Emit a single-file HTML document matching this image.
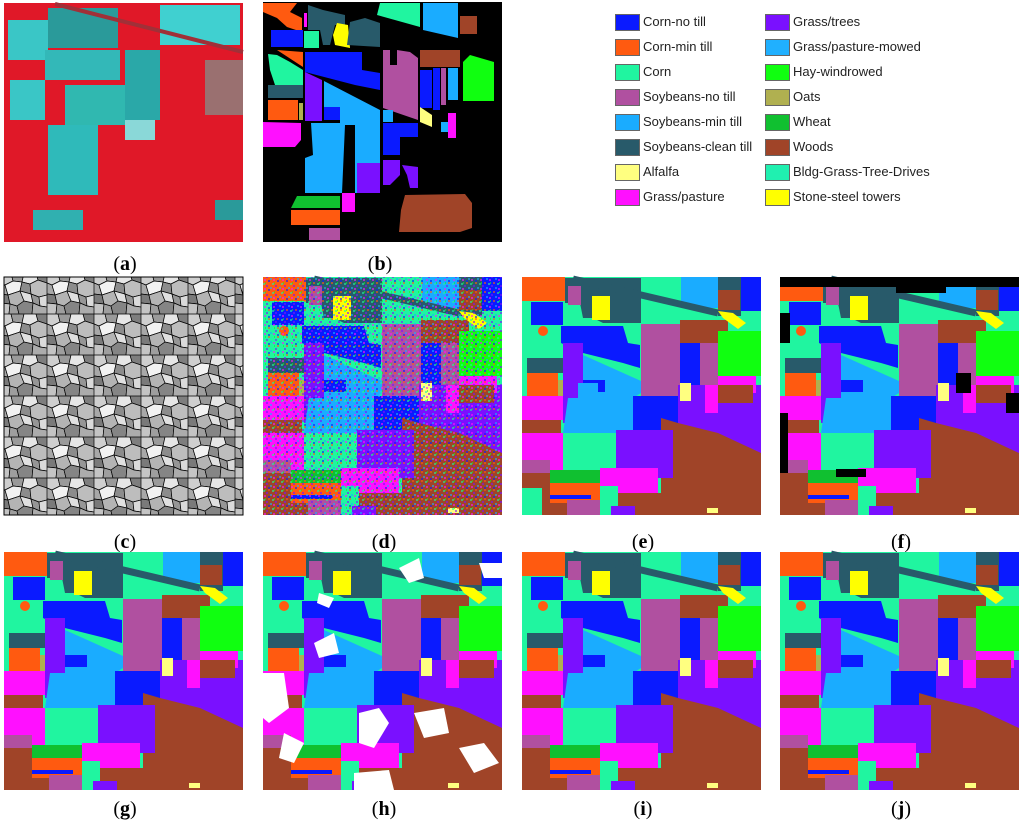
<!DOCTYPE html>
<html><head><meta charset="utf-8">
<style>
body{margin:0;background:#fff;width:1024px;height:830px;position:relative;overflow:hidden;font-family:"Liberation Sans",sans-serif}
svg.p{position:absolute;width:250px;height:245px}
.lab{position:absolute;width:250px;text-align:center;font:20px "Liberation Serif",serif}
.lab b{font-weight:bold}
.lg{position:absolute;font-size:13px;color:#222}
.sw{position:absolute;width:25px;height:17px;border:1px solid #666;box-sizing:border-box}
</style></head><body>
<svg width="0" height="0" style="position:absolute">
<defs>
<pattern id="noise" width="9" height="9" patternUnits="userSpaceOnUse">
<rect x="0" y="0" width="2" height="2" fill="#ff5a10"/><rect x="4" y="1" width="2" height="2" fill="#20f5a0"/>
<rect x="7" y="3" width="2" height="2" fill="#7a10ff"/><rect x="2" y="5" width="2" height="2" fill="#1aacff"/>
<rect x="5" y="6" width="2" height="2" fill="#ff10ff"/><rect x="0" y="7" width="2" height="2" fill="#0a1aff"/>
<rect x="6" y="0" width="1" height="2" fill="#10ff10"/></pattern>
<pattern id="mosaic" width="47" height="41" patternUnits="userSpaceOnUse">
<rect width="47" height="41" fill="#8a8a8a"/>
<g stroke="#000" stroke-width="0.7">
<polygon points="0,0 11,0 13,8 5,12 0,10" fill="#cfcfcf"/>
<polygon points="11,0 24,0 22,9 13,8" fill="#9a9a9a"/>
<polygon points="24,0 36,0 38,7 30,11 22,9" fill="#e6e6e6"/>
<polygon points="36,0 47,0 47,10 38,7" fill="#7e7e7e"/>
<polygon points="0,10 5,12 8,22 0,21" fill="#a8a8a8"/>
<polygon points="5,12 13,8 22,9 20,18 8,22" fill="#f2f2f2"/>
<polygon points="22,9 30,11 31,21 20,18" fill="#8c8c8c"/>
<polygon points="30,11 38,7 47,10 47,22 39,24 31,21" fill="#bdbdbd"/>
<polygon points="0,21 8,22 10,31 0,30" fill="#7a7a7a"/>
<polygon points="8,22 20,18 24,28 17,33 10,31" fill="#b4b4b4"/>
<polygon points="20,18 31,21 33,30 24,28" fill="#e0e0e0"/>
<polygon points="31,21 39,24 40,33 33,30" fill="#969696"/>
<polygon points="39,24 47,22 47,34 40,33" fill="#dadada"/>
<polygon points="0,30 10,31 9,41 0,41" fill="#c4c4c4"/>
<polygon points="10,31 17,33 19,41 9,41" fill="#9e9e9e"/>
<polygon points="17,33 24,28 33,30 32,41 19,41" fill="#858585"/>
<polygon points="33,30 40,33 47,34 47,41 32,41" fill="#acacac"/>
</g>
</pattern>
<g id="mapg">
<rect x="4" y="4" width="239" height="238" fill="#20f5a0"/>
<rect x="4" y="4" width="43" height="24" fill="#ff5a10"/>
<rect x="163" y="4" width="37" height="31" fill="#1aacff"/>
<polygon points="47,5 123,5 123,50 85,50 75,45 65,45 62,30 47,30" fill="#285a6a"/>
<line x1="55" y1="6" x2="200" y2="40" stroke="#285a6a" stroke-width="7"/>
<rect x="200" y="4" width="23" height="39" fill="#285a6a"/>
<rect x="223" y="4" width="20" height="34" fill="#0a1aff"/>
<rect x="200" y="17" width="22" height="20" fill="#a04428"/>
<rect x="50" y="13" width="13" height="19" fill="#b050a0"/>
<rect x="74" y="23" width="18" height="24" fill="#ffff00"/>
<rect x="13" y="29" width="32" height="23" fill="#0a1aff"/>
<circle cx="25" cy="58" r="5" fill="#ff5a10"/>
<polygon points="43,53 105,53 110,70 122,72 122,95 105,90 65,80 43,70" fill="#0a1aff"/>
<rect x="9" y="85" width="36" height="15" fill="#285a6a"/>
<rect x="9" y="100" width="31" height="23" fill="#ff5a10"/>
<rect x="40" y="107" width="6" height="16" fill="#b0b050"/>
<rect x="45" y="70" width="20" height="80" fill="#7a10ff"/>
<polygon points="65,82 123,108 123,120 115,125 117,150 150,155 160,165 160,195 98,195 98,160 45,160 50,125 65,125" fill="#1aacff"/>
<rect x="65" y="107" width="22" height="12" fill="#0a1aff"/>
<rect x="123" y="51" width="39" height="72" fill="#b050a0"/>
<rect x="162" y="47" width="48" height="25" fill="#a04428"/>
<rect x="162" y="70" width="20" height="42" fill="#0a1aff"/>
<rect x="182" y="70" width="18" height="42" fill="#b050a0"/>
<rect x="200" y="58" width="43" height="45" fill="#10ff10"/>
<polygon points="200,38 215,40 228,50 220,56 205,45" fill="#ffff00"/>
<polygon points="160,112 243,112 243,185 200,185 160,175" fill="#7a10ff"/>
<rect x="200" y="103" width="38" height="17" fill="#ff10ff"/>
<rect x="187" y="112" width="13" height="28" fill="#ff10ff"/>
<rect x="200" y="112" width="35" height="18" fill="#a04428"/>
<rect x="162" y="110" width="11" height="18" fill="#ffff80"/>
<rect x="115" y="123" width="45" height="35" fill="#0a1aff"/>
<polygon points="143,145 160,150 200,160 243,180 243,242 143,242" fill="#a04428"/>
<rect x="98" y="157" width="57" height="48" fill="#7a10ff"/>
<rect x="4" y="123" width="41" height="24" fill="#ff10ff"/>
<rect x="4" y="147" width="39" height="30" fill="#a04428"/>
<rect x="4" y="160" width="41" height="40" fill="#ff10ff"/>
<rect x="4" y="187" width="28" height="23" fill="#b050a0"/>
<rect x="4" y="200" width="46" height="42" fill="#a04428"/>
<rect x="32" y="197" width="50" height="13" fill="#10c030"/>
<rect x="32" y="210" width="50" height="20" fill="#ff5a10"/>
<rect x="32" y="222" width="41" height="4" fill="#0a1aff"/>
<rect x="49" y="227" width="33" height="15" fill="#b050a0"/>
<rect x="82" y="195" width="58" height="35" fill="#ff10ff"/>
<rect x="82" y="213" width="18" height="29" fill="#20f5a0"/>
<rect x="100" y="220" width="43" height="22" fill="#a04428"/>
<rect x="93" y="233" width="24" height="9" fill="#7a10ff"/>
<rect x="189" y="235" width="11" height="5" fill="#ffff80"/>
</g>
</defs></svg>

<!-- (a) -->
<svg class="p" style="left:0;top:0" viewBox="0 0 250 245">
<rect x="4" y="3" width="239" height="239" fill="#e01828"/>
<rect x="8" y="20" width="40" height="40" fill="#3ac6c6"/>
<rect x="48" y="8" width="70" height="40" fill="#2a9a9a"/>
<rect x="160" y="5" width="80" height="40" fill="#40d0d0"/>
<rect x="10" y="80" width="35" height="40" fill="#3ac6c6"/>
<rect x="45" y="50" width="75" height="30" fill="#33b8b8"/>
<rect x="125" y="50" width="35" height="70" fill="#2aa8a8"/>
<rect x="65" y="85" width="60" height="40" fill="#30b8b0"/>
<rect x="48" y="125" width="50" height="70" fill="#2fbaba"/>
<rect x="125" y="120" width="30" height="20" fill="#8ad8d8"/>
<rect x="205" y="60" width="38" height="55" fill="#9a7070"/>
<rect x="33" y="210" width="50" height="20" fill="#30b0b0"/>
<line x1="55" y1="4" x2="243" y2="52" stroke="#a03038" stroke-width="4"/>
<rect x="215" y="200" width="28" height="20" fill="#2a9a9a"/>
</svg>
<div class="lab" style="left:0;top:253px">(<b>a</b>)</div>

<!-- (b) -->
<svg class="p" style="left:255px;top:0" viewBox="0 0 250 245">
<rect x="8" y="2" width="239" height="240" fill="#000"/>
<polygon points="8,3 42,3 35,12 47,18 47,32 32,27 22,18 8,12" fill="#ff5a10"/>
<rect x="49" y="13" width="3" height="14" fill="#ff10ff"/>
<rect x="54" y="13" width="10" height="16" fill="#b050a0"/>
<polygon points="53,5 68,10 90,15 90,25 80,25 75,45 68,45 65,30 53,30" fill="#285a6a"/>
<rect x="49" y="31" width="15" height="17" fill="#20f5a0"/>
<polygon points="82,23 93,25 95,48 80,45 78,35" fill="#ffff00"/>
<polygon points="95,22 110,18 125,23 125,47 92,45" fill="#285a6a"/>
<rect x="16" y="30" width="32" height="17" fill="#0a1aff"/>
<polygon points="125,3 165,3 165,27 122,15" fill="#20f5a0"/>
<polygon points="168,3 203,3 203,38 168,30" fill="#1aacff"/>
<rect x="205" y="16" width="17" height="18" fill="#a04428"/>
<polygon points="22,50 48,52 48,67" fill="#ff5a10"/>
<polygon points="13,54 22,55 35,62 48,70 48,85 20,85 15,70" fill="#20f5a0"/>
<polygon points="50,52 107,52 107,70 125,73 125,90 100,85 50,72" fill="#0a1aff"/>
<rect x="165" y="50" width="40" height="17" fill="#a04428"/>
<polygon points="128,50 135,50 135,65 142,65 142,50 155,52 163,58 163,120 128,108" fill="#b050a0"/>
<rect x="165" y="70" width="12" height="38" fill="#0a1aff"/>
<rect x="178" y="68" width="7" height="42" fill="#0a1aff"/>
<rect x="186" y="68" width="5" height="37" fill="#b050a0"/>
<rect x="193" y="68" width="10" height="32" fill="#1aacff"/>
<polygon points="208,62 215,55 239,62 239,101 208,101" fill="#10ff10"/>
<rect x="13" y="85" width="35" height="13" fill="#285a6a"/>
<rect x="13" y="100" width="30" height="20" fill="#ff5a10"/>
<rect x="44" y="103" width="4" height="17" fill="#b0b050"/>
<polygon points="50,72 67,80 67,121 50,121" fill="#7a10ff"/>
<polygon points="69,81 125,110 125,193 100,193 100,125 90,125 87,193 50,193 50,158 58,155 56,123 85,123 85,108 69,107" fill="#1aacff"/>
<rect x="69" y="107" width="16" height="13" fill="#0a1aff"/>
<rect x="128" y="110" width="10" height="12" fill="#1aacff"/>
<polygon points="165,107 177,115 177,127 165,122" fill="#ffff80"/>
<polygon points="128,123 163,123 163,137 145,137 145,155 128,155" fill="#0a1aff"/>
<rect x="186" y="122" width="7" height="10" fill="#1aacff"/>
<rect x="193" y="113" width="8" height="25" fill="#ff10ff"/>
<polygon points="8,122 46,123 46,140 40,147 8,147" fill="#ff10ff"/>
<rect x="102" y="163" width="23" height="30" fill="#7a10ff"/>
<polygon points="128,160 145,160 145,175 135,185 128,185" fill="#7a10ff"/>
<polygon points="147,165 163,167 163,188 155,188 152,175" fill="#7a10ff"/>
<polygon points="42,196 85,196 85,208 36,208" fill="#10c030"/>
<rect x="36" y="210" width="49" height="15" fill="#ff5a10"/>
<rect x="87" y="193" width="13" height="19" fill="#ff10ff"/>
<rect x="54" y="228" width="31" height="12" fill="#b050a0"/>
<polygon points="150,195 210,194 217,203 217,228 205,232 144,232 146,210" fill="#a04428"/>
</svg>
<div class="lab" style="left:255px;top:253px">(<b>b</b>)</div>

<!-- legend -->
<div>
<div class="sw" style="left:615px;top:14px;background:#0a1aff"></div><div class="lg" style="left:643px;top:14px">Corn-no till</div>
<div class="sw" style="left:615px;top:39px;background:#ff5a10"></div><div class="lg" style="left:643px;top:39px">Corn-min till</div>
<div class="sw" style="left:615px;top:64px;background:#20f5a0"></div><div class="lg" style="left:643px;top:64px">Corn</div>
<div class="sw" style="left:615px;top:89px;background:#b050a0"></div><div class="lg" style="left:643px;top:89px">Soybeans-no till</div>
<div class="sw" style="left:615px;top:114px;background:#1aacff"></div><div class="lg" style="left:643px;top:114px">Soybeans-min till</div>
<div class="sw" style="left:615px;top:139px;background:#285a6a"></div><div class="lg" style="left:643px;top:139px">Soybeans-clean till</div>
<div class="sw" style="left:615px;top:164px;background:#ffff80"></div><div class="lg" style="left:643px;top:164px">Alfalfa</div>
<div class="sw" style="left:615px;top:189px;background:#ff10ff"></div><div class="lg" style="left:643px;top:189px">Grass/pasture</div>
<div class="sw" style="left:765px;top:14px;background:#7a10ff"></div><div class="lg" style="left:793px;top:14px">Grass/trees</div>
<div class="sw" style="left:765px;top:39px;background:#20b0ff"></div><div class="lg" style="left:793px;top:39px">Grass/pasture-mowed</div>
<div class="sw" style="left:765px;top:64px;background:#10ff10"></div><div class="lg" style="left:793px;top:64px">Hay-windrowed</div>
<div class="sw" style="left:765px;top:89px;background:#b0b050"></div><div class="lg" style="left:793px;top:89px">Oats</div>
<div class="sw" style="left:765px;top:114px;background:#10c030"></div><div class="lg" style="left:793px;top:114px">Wheat</div>
<div class="sw" style="left:765px;top:139px;background:#a04428"></div><div class="lg" style="left:793px;top:139px">Woods</div>
<div class="sw" style="left:765px;top:164px;background:#20f0b0"></div><div class="lg" style="left:793px;top:164px">Bldg-Grass-Tree-Drives</div>
<div class="sw" style="left:765px;top:189px;background:#ffff00"></div><div class="lg" style="left:793px;top:189px">Stone-steel towers</div>
</div>

<!-- row 2 -->
<svg class="p" style="left:0;top:273px" viewBox="0 0 250 245">
<rect x="4" y="4" width="239" height="238" fill="url(#mosaic)" stroke="#000"/>
</svg>
<div class="lab" style="left:0;top:531px">(<b>c</b>)</div>
<svg class="p" style="left:259px;top:273px" viewBox="0 0 250 245">
<use href="#mapg"/><rect x="4" y="4" width="239" height="238" fill="url(#noise)" opacity="0.6"/>
</svg>
<div class="lab" style="left:259px;top:531px">(<b>d</b>)</div>
<svg class="p" style="left:518px;top:273px" viewBox="0 0 250 245">
<use href="#mapg"/>
<rect x="4" y="215" width="20" height="27" fill="#20f5a0"/><rect x="60" y="110" width="20" height="30" fill="#1aacff"/>
</svg>
<div class="lab" style="left:518px;top:531px">(<b>e</b>)</div>
<svg class="p" style="left:776px;top:273px" viewBox="0 0 250 245">
<use href="#mapg"/>
<rect x="4" y="4" width="239" height="10" fill="#000"/>
<rect x="4" y="40" width="10" height="30" fill="#000"/><rect x="4" y="140" width="8" height="60" fill="#000"/>
<rect x="60" y="196" width="30" height="8" fill="#000"/><rect x="180" y="100" width="15" height="20" fill="#000"/>
<rect x="230" y="120" width="13" height="20" fill="#000"/><rect x="120" y="5" width="50" height="15" fill="#000"/>
</svg>
<div class="lab" style="left:776px;top:531px">(<b>f</b>)</div>

<!-- row 3 -->
<svg class="p" style="left:0;top:548px" viewBox="0 0 250 245"><use href="#mapg"/></svg>
<div class="lab" style="left:0;top:798px">(<b>g</b>)</div>
<svg class="p" style="left:259px;top:548px" viewBox="0 0 250 245">
<use href="#mapg"/>
<g fill="#fff">
<polygon points="4,125 25,125 30,160 10,175 4,170"/><polygon points="25,185 45,195 35,215 20,210"/>
<polygon points="100,165 120,160 130,175 115,200 100,195"/><polygon points="155,165 185,160 190,185 165,190"/>
<polygon points="55,95 75,85 80,105 60,110"/><polygon points="140,20 160,10 165,30 150,35"/>
<polygon points="200,200 225,195 240,215 215,225"/><polygon points="95,225 130,222 135,242 95,242"/>
<polygon points="60,45 75,50 70,60 58,55"/><polygon points="220,15 243,15 243,30 225,30"/>
</g></svg>
<div class="lab" style="left:259px;top:798px">(<b>h</b>)</div>
<svg class="p" style="left:518px;top:548px" viewBox="0 0 250 245"><use href="#mapg"/></svg>
<div class="lab" style="left:518px;top:798px">(<b>i</b>)</div>
<svg class="p" style="left:776px;top:548px" viewBox="0 0 250 245"><use href="#mapg"/></svg>
<div class="lab" style="left:776px;top:798px">(<b>j</b>)</div>
</body></html>
